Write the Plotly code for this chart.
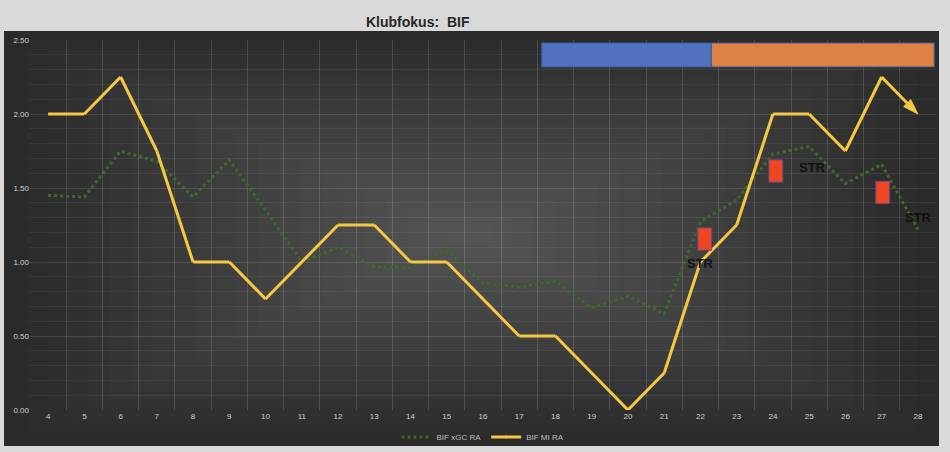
import plotly.graph_objects as go

# ---------------- data ----------------
rounds = list(range(4, 29))
mi_ra = [2.00, 2.00, 2.25, 1.75, 1.00, 1.00, 0.75, 1.00, 1.25, 1.25, 1.00, 1.00, 0.75,
         0.50, 0.50, 0.25, 0.00, 0.25, 1.00, 1.25, 2.00, 2.00, 1.75, 2.25, 2.00]
xgc_ra = [1.45, 1.44, 1.75, 1.68, 1.44, 1.69, 1.35, 1.00, 1.10, 0.97, 0.96, 1.08, 0.86,
          0.83, 0.87, 0.69, 0.77, 0.65, 1.27, 1.42, 1.73, 1.78, 1.53, 1.66, 1.22]
series_names = ["BIF xGC RA", "BIF MI RA"]

# period bars at the top (start, end)
period_starts = [17.62, 22.30]
period_ends = [22.30, 28.45]
period_colors = ["#4f71be", "#dd8145"]
period_y = [2.318, 2.48]

# red markers + STR labels
marker_rounds = [22.12, 24.08, 27.03]
marker_values = [1.155, 1.615, 1.47]
str_rounds = [22.0, 25.08, 28.03]
str_values = [0.99, 1.64, 1.30]

title_text = "Klubfokus:  BIF"

# ---------------- figure ----------------
W, H = 950, 452
ml, mr, mt, mb = 30, 14, 40, 42
pw, ph = W - ml - mr, H - mt - mb

def px_x(px):
    return (px - ml) / pw

def px_y(py):
    return (H - mb - py) / ph

fig = go.Figure()

fig.add_trace(go.Scatter(
    x=rounds, y=xgc_ra, name=series_names[0], mode="lines",
    line=dict(color="#3d6b2b", width=3, dash="dot"),
))
n = len(rounds)
fig.add_trace(go.Scatter(
    x=rounds, y=mi_ra, name=series_names[1], mode="lines+markers",
    line=dict(color="#f5c843", width=3),
    marker=dict(symbol=["circle"] * (n - 1) + ["arrow"],
                size=[0] * (n - 1) + [16], opacity=1,
                angleref="previous", color="#f5c843",
                line=dict(width=1, color="#f5c843")),
))

shapes = []
# dark chart area with a radial-ish gradient
x0p, x1p, y0p, y1p = 4, 939, 31, 446
shapes.append(dict(type="rect", xref="paper", yref="paper",
                   x0=px_x(x0p), x1=px_x(x1p), y0=px_y(y1p), y1=px_y(y0p),
                   fillcolor="#2a2a2a", line=dict(width=0), layer="below"))
cx, cy = 470, 235
steps = 22
for i in range(1, steps):
    f = 1 - i / steps
    ax0 = cx - (cx - x0p) * f
    ax1 = cx + (x1p - cx) * f
    ay0 = cy - (cy - y0p) * f
    ay1 = cy + (y1p - cy) * f
    shapes.append(dict(type="rect", xref="paper", yref="paper",
                       x0=px_x(ax0), x1=px_x(ax1), y0=px_y(ay1), y1=px_y(ay0),
                       fillcolor="rgba(255,255,255,0.011)", line=dict(width=0),
                       layer="below"))

for s, e, c in zip(period_starts, period_ends, period_colors):
    shapes.append(dict(type="rect", xref="x", yref="y", x0=s, x1=e,
                       y0=period_y[0], y1=period_y[1], fillcolor=c,
                       line=dict(color="#3b5b9c", width=1)))

mw, mh = 0.19, 0.075
for r, v in zip(marker_rounds, marker_values):
    shapes.append(dict(type="rect", xref="x", yref="y", x0=r - mw, x1=r + mw,
                       y0=v - mh, y1=v + mh, fillcolor="#ee4623",
                       line=dict(color="#6b4a8a", width=1)))

annotations = [dict(text="<b>" + title_text + "</b>", xref="paper", yref="paper",
                    x=px_x(418), y=px_y(12), showarrow=False,
                    font=dict(family="Liberation Sans", size=14, color="#262626"))]
for r, v in zip(str_rounds, str_values):
    annotations.append(dict(text="<b>STR</b>", x=r, y=v, xref="x", yref="y",
                            showarrow=False,
                            font=dict(family="Liberation Sans", size=13, color="#111111")))

fig.update_layout(
    width=W, height=H,
    margin=dict(l=ml, r=mr, t=mt, b=mb, autoexpand=False),
    paper_bgcolor="#d9d9d9",
    plot_bgcolor="rgba(0,0,0,0)",
    shapes=shapes,
    annotations=annotations,
    showlegend=True,
    legend=dict(orientation="h", x=0.5, xanchor="center", y=px_y(437), yanchor="middle",
                bgcolor="rgba(0,0,0,0)",
                font=dict(family="Liberation Sans", size=8, color="#bfbfbf")),
    font=dict(family="Liberation Sans"),
)
fig.update_xaxes(
    range=[3.5, 28.5], tickmode="array", tickvals=rounds,
    ticktext=[str(r) for r in rounds],
    showgrid=False, zeroline=False, showline=False, ticks="",
    tickfont=dict(size=8, color="#d0d0d0"),
    minor=dict(tickmode="linear", tick0=3.5, dtick=1, showgrid=True,
               gridcolor="rgba(255,255,255,0.14)", gridwidth=1, ticks=""),
)
fig.update_yaxes(
    range=[0, 2.5], tick0=0, dtick=0.5, tickformat=".2f",
    showgrid=True, gridcolor="rgba(255,255,255,0.12)", gridwidth=1,
    zeroline=False, showline=False, ticks="",
    tickfont=dict(size=8, color="#d0d0d0"),
    minor=dict(tick0=0, dtick=0.1, showgrid=True,
               gridcolor="rgba(255,255,255,0.07)", gridwidth=1, ticks=""),
)

fig.write_html("out.html")
